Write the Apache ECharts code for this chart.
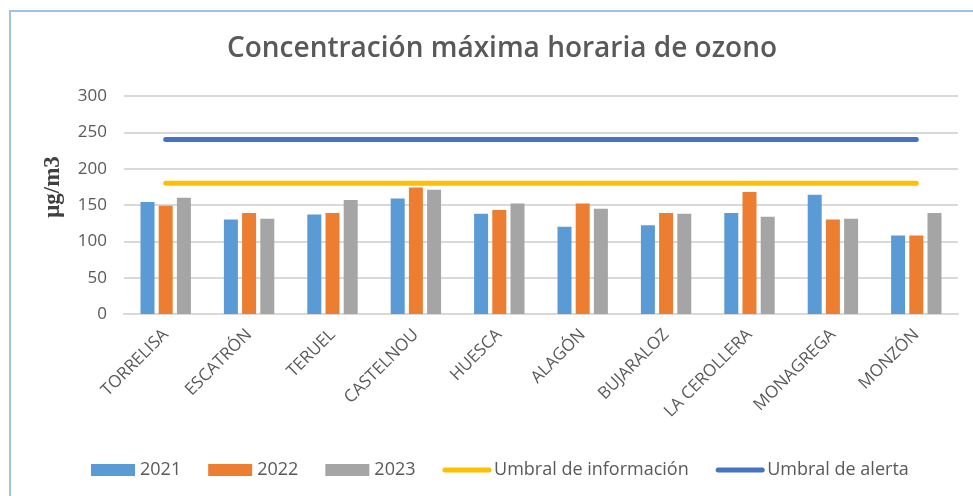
<!DOCTYPE html>
<html>
<head>
<meta charset="utf-8">
<script src="https://cdn.jsdelivr.net/npm/echarts@6/dist/echarts.min.js"></script>
<style>
html,body{margin:0;padding:0;background:#fff;}
#chart{width:973px;height:496px;}
</style>
</head>
<body>
<div id="chart"></div>
<script>
const categories = ['TORRELISA','ESCATRÓN','TERUEL','CASTELNOU','HUESCA','ALAGÓN','BUJARALOZ','LA CEROLLERA','MONAGREGA','MONZÓN'];
const values2021 = [154, 130, 137, 159, 138, 120, 122, 139, 164, 108];
const values2022 = [149, 139, 139, 174, 143, 152, 139, 168, 130, 108];
const values2023 = [160, 131, 157, 171, 152, 145, 138, 134, 131, 139];
const umbralInformacion = [180, 180, 180, 180, 180, 180, 180, 180, 180, 180];
const umbralAlerta = [240, 240, 240, 240, 240, 240, 240, 240, 240, 240];
const yTicks = [0, 50, 100, 150, 200, 250, 300];

const chart = echarts.init(document.getElementById('chart'));
const font = '"Open Sans", sans-serif';
const option = {
  backgroundColor: '#ffffff',
  animation: false,
  graphic: [{
    type: 'rect',
    shape: {x: 10, y: 11, width: 1100, height: 1000},
    style: {fill: 'none', stroke: '#9DC3E6', lineWidth: 2},
    silent: true
  }, {
    type: 'text',
    x: 53,
    y: 187,
    rotation: Math.PI / 2,
    silent: true,
    style: {
      text: 'μg/m3',
      fontFamily: '"Liberation Serif", serif',
      fontWeight: 'bold',
      fontSize: 23,
      fill: '#404040',
      align: 'center',
      verticalAlign: 'middle'
    }
  }],
  title: {
    text: 'Concentración máxima horaria de ozono',
    left: 222,
    top: 30,
    textStyle: {fontFamily: font, fontSize: 28, fontWeight: 600, color: '#595959'}
  },
  grid: {left: 124, right: 15, top: 96, bottom: 182, containLabel: false},
  legend: {
    left: 86,
    top: 456,
    itemWidth: 44,
    itemHeight: 12,
    itemGap: 27,
    textStyle: {fontFamily: font, fontSize: 18, color: '#595959'},
    data: [
      {name: '2021', icon: 'rect'},
      {name: '2022', icon: 'rect'},
      {name: '2023', icon: 'rect'},
      {name: 'Umbral de información', itemStyle: {opacity: 0}, lineStyle: {width: 5, cap: 'round', color: '#FFC000'}},
      {name: 'Umbral de alerta', itemStyle: {opacity: 0}, lineStyle: {width: 5, cap: 'round', color: '#4472C4'}}
    ]
  },
  xAxis: {
    type: 'category',
    data: categories,
    boundaryGap: true,
    axisLine: {lineStyle: {color: '#D9D9D9', width: 2}},
    axisTick: {show: false},
    axisLabel: {rotate: 45, margin: 18, fontFamily: font, fontSize: 17, color: '#595959', interval: 0}
  },
  yAxis: {
    type: 'value',
    min: yTicks[0],
    max: yTicks[yTicks.length - 1],
    interval: 50,
    axisLine: {show: false},
    axisTick: {show: false},
    axisLabel: {margin: 17, fontFamily: font, fontSize: 17, color: '#595959'},
    splitLine: {lineStyle: {color: '#D9D9D9', width: 2}}
  },
  series: [
    {name: '2021', type: 'bar', data: values2021, barWidth: 14, barGap: '30%', itemStyle: {color: '#5B9BD5'}},
    {name: '2022', type: 'bar', data: values2022, barWidth: 14, barGap: '30%', itemStyle: {color: '#ED7D31'}},
    {name: '2023', type: 'bar', data: values2023, barWidth: 14, barGap: '30%', itemStyle: {color: '#A5A5A5'}},
    {name: 'Umbral de información', type: 'line', data: umbralInformacion, symbol: 'none', lineStyle: {color: '#FFC000', width: 5, cap: 'round'}, itemStyle: {color: '#FFC000'}},
    {name: 'Umbral de alerta', type: 'line', data: umbralAlerta, symbol: 'none', lineStyle: {color: '#4472C4', width: 5, cap: 'round'}, itemStyle: {color: '#4472C4'}}
  ]
};
chart.setOption(option);
</script>
</body>
</html>
